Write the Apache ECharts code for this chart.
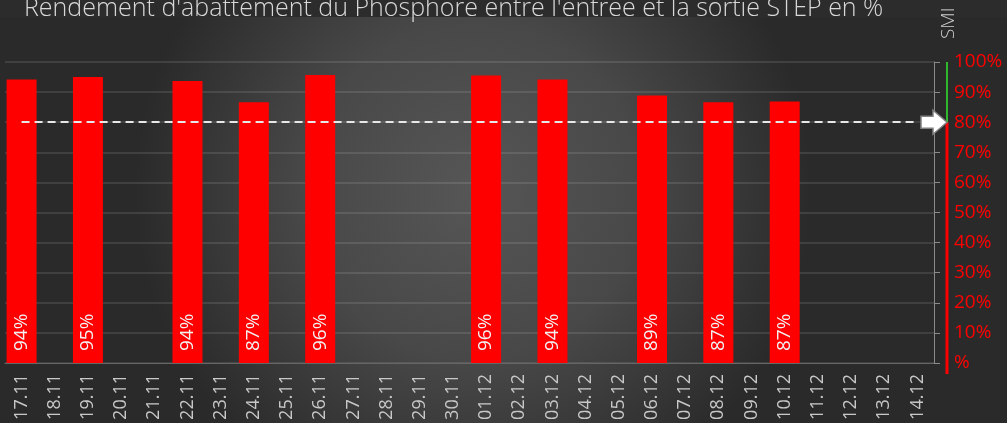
<!DOCTYPE html>
<html>
<head>
<meta charset="utf-8">
<script src="https://cdn.jsdelivr.net/npm/echarts@6/dist/echarts.min.js"></script>
<style>
  html, body { margin: 0; padding: 0; background: #2b2b2b; }
  #chart { width: 1007px; height: 423px; }
</style>
</head>
<body>
<div id="chart"></div>
<script>
// jours de mesure
var days = ['17.11','18.11','19.11','20.11','21.11','22.11','23.11','24.11','25.11','26.11','27.11','28.11','29.11','30.11',
            '01.12','02.12','03.12','04.12','05.12','06.12','07.12','08.12','09.12','10.12','11.12','12.12','13.12','14.12']
// rendement en %, null = pas de mesure
var rendement = [94.2,null,95.0,null,null,93.7,null,86.6,null,95.7,null,null,null,null,
                 95.5,null,94.2,null,null,88.9,null,86.6,null,86.9,null,null,null,null]
var smi = 80
var yTicks = [0,10,20,30,40,50,60,70,80,90,100]

var echart = echarts.init(document.getElementById('chart'))

var option = {
  backgroundColor: {
    type: 'radial', x: 0.47, y: 0.45, r: 0.8,
    colorStops: [
      { offset: 0, color: '#565656' },
      { offset: 0.5, color: '#484848' },
      { offset: 1, color: '#2a2a2a' }
    ]
  },
  animation: false,
  title: {
    text: "Rendement d'abattement du Phosphore entre l'entrée et la sortie STEP en %",
    left: 19,
    top: -9,
    textStyle: {
      color: '#d8d8d8',
      fontSize: 25,
      fontWeight: 300,
      fontFamily: 'Open Sans'
    }
  },
  graphic: [
    { type: 'rect', z: -1, shape: { x: 0, y: 0, width: 1007, height: 17 }, style: { fill: '#2c2c2c' } },
    {
      type: 'text', x: 939, y: 39, rotation: Math.PI / 2,
      style: { text: 'SMI', fill: '#cfcfcf', fontSize: 19, fontFamily: 'Open Sans', fontWeight: 300 }
    }
  ],
  grid: {
    top: 62,
    left: 5,
    right: 73,
    bottom: 60,
    containLabel: false
  },
  xAxis: [{
    type: 'category',
    data: days,
    axisLine: { show: true, lineStyle: { color: '#666' } },
    axisTick: { show: false },
    axisLabel: {
      rotate: 90,
      color: '#c8c8c8',
      fontSize: 18,
      fontFamily: 'Open Sans',
      margin: 11,
      interval: 0
    }
  }],
  yAxis: [{
    type: 'value',
    position: 'right',
    min: 0,
    max: 100,
    interval: 10,
    axisLine: { show: true, lineStyle: { color: '#8a8a8a' } },
    axisTick: { show: true, length: 6, lineStyle: { color: '#8a8a8a' } },
    splitLine: { show: true, lineStyle: { color: 'rgba(255,255,255,0.14)', width: 1.5 } },
    axisLabel: {
      margin: 20,
      color: '#ff0000',
      fontSize: 19,
      fontFamily: 'Open Sans',
      formatter: function (v) { return v === 0 ? '%' : v + '%' }
    }
  }],
  series: [
    {
      name: 'Rendement',
      type: 'bar',
      barWidth: 30,
      itemStyle: { color: '#ff0000' },
      label: {
        show: true,
        position: 'insideBottom',
        rotate: 90,
        align: 'left',
        verticalAlign: 'middle',
        distance: 12,
        color: '#f2f2f2',
        fontSize: 19,
        fontFamily: 'Open Sans',
        formatter: function (p) { return Math.round(p.value) + '%' }
      },
      data: rendement,
      markLine: {
        silent: true,
        symbol: ['none', 'none'],
        label: { show: false },
        lineStyle: { color: '#e8e8e8', type: [8, 5], width: 2 },
        data: [[{ coord: [days[0], smi] }, { coord: [days[days.length - 1], smi] }]]
      }
    },
    {
      // indicateur SMI a droite : vert au dessus du seuil, rouge en dessous + fleche
      name: 'SMI',
      type: 'custom',
      silent: true,
      clip: false,
      data: [[0, smi]],
      renderItem: function (params, api) {
        var cs = params.coordSys
        var lx = cs.x + cs.width + 13
        var yTop = api.coord([0, yTicks[yTicks.length - 1]])[1]
        var ySmi = api.coord([0, api.value(1)])[1]
        var yBot = api.coord([0, yTicks[0]])[1]
        var tip = lx
        return {
          type: 'group',
          children: [
            { type: 'line', shape: { x1: lx, y1: yTop, x2: lx, y2: ySmi }, style: { stroke: '#2eb82e', lineWidth: 2 } },
            { type: 'line', shape: { x1: lx, y1: ySmi, x2: lx, y2: yBot + 11 }, style: { stroke: '#ff0000', lineWidth: 3 } },
            {
              type: 'polygon',
              shape: {
                points: [
                  [tip, ySmi], [tip - 14, ySmi - 12], [tip - 14, ySmi - 6], [tip - 26, ySmi - 6],
                  [tip - 26, ySmi + 6], [tip - 14, ySmi + 6], [tip - 14, ySmi + 12]
                ]
              },
              style: { fill: '#ffffff', stroke: '#808080', lineWidth: 1.5 }
            }
          ]
        }
      }
    }
  ]
}
echart.setOption(option)
</script>
</body>
</html>
